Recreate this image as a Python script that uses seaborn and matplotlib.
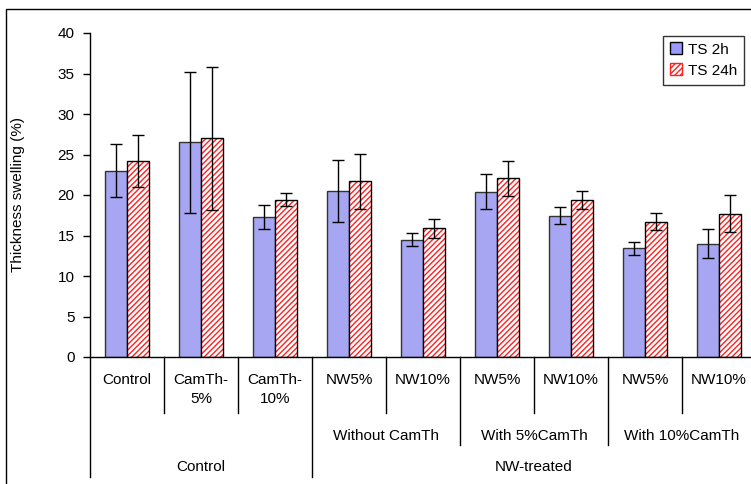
import numpy as np
import pandas as pd
import seaborn as sns
import matplotlib
matplotlib.use("Agg")
import matplotlib.pyplot as plt
from matplotlib.transforms import blended_transform_factory
from matplotlib.patches import Rectangle, Patch
from matplotlib.lines import Line2D

# ---- data ----
categories = ["Control", "CamTh-\n5%", "CamTh-\n10%", "NW5%", "NW10%",
              "NW5%", "NW10%", "NW5%", "NW10%"]
series = ["TS 2h", "TS 24h"]
ts2h = [23.0, 26.5, 17.3, 20.5, 14.5, 20.4, 17.45, 13.4, 14.0]
ts2h_err = [3.3, 8.7, 1.45, 3.85, 0.85, 2.15, 1.05, 0.8, 1.8]
ts24h = [24.2, 27.0, 19.4, 21.7, 15.9, 22.05, 19.4, 16.7, 17.7]
ts24h_err = [3.25, 8.8, 0.8, 3.4, 1.15, 2.2, 1.1, 1.05, 2.25]
group2_labels = ["Without CamTh", "With 5%CamTh", "With 10%CamTh"]
group2_spans = [(3, 4), (5, 6), (7, 8)]
group3_labels = ["Control", "NW-treated"]
group3_spans = [(0, 2), (3, 8)]
yticks = [0, 5, 10, 15, 20, 25, 30, 35, 40]

df = pd.DataFrame({
    "pos": list(range(len(categories))) * 2,
    "value": ts2h + ts24h,
    "series": [series[0]] * len(categories) + [series[1]] * len(categories),
})

plt.rcParams["font.family"] = ["Liberation Sans", "DejaVu Sans"]
plt.rcParams["hatch.linewidth"] = 1.0
FS = 11

fig = plt.figure(figsize=(7.51, 4.84), dpi=100)
ax = fig.add_axes([90 / 751, 1 - 357 / 484, 666 / 751, 324 / 484])

blue = "#9999FF"
sns.barplot(data=df, x="pos", y="value", hue="series", hue_order=series,
            palette=[blue, "white"], width=0.6, gap=0, errorbar=None,
            edgecolor="black", linewidth=1.0, ax=ax, legend=False, zorder=2)

# style red hatched bars
for p in ax.containers[1]:
    p.set_facecolor("white")
    p.set_edgecolor("#FF2020")
    p.set_hatch("//////")
    p.set_linewidth(0)
    ax.add_patch(Rectangle((p.get_x(), p.get_y()), p.get_width(), p.get_height(),
                           fill=False, edgecolor="black", linewidth=1.0, zorder=3))
for p in ax.containers[0]:
    p.set_edgecolor("#333333")

# error bars
for cont, err in zip(ax.containers, [ts2h_err, ts24h_err]):
    xs = [p.get_x() + p.get_width() / 2 for p in cont]
    hs = [p.get_height() for p in cont]
    ax.errorbar(xs, hs, yerr=err, fmt="none", ecolor="black", elinewidth=1.0,
                capsize=4, capthick=1.0, zorder=4)

ax.set_ylim(0, 40)
ax.set_xlim(-0.5, len(categories) - 0.5)
ax.set_yticks(yticks)
ax.set_yticklabels([str(t) for t in yticks], fontsize=FS)
ax.tick_params(axis="y", direction="out", length=5, width=1, pad=6, colors="black")
ax.set_xticks([])
ax.set_xlabel("")
ax.set_ylabel("Thickness swelling (%)", fontsize=FS)
ax.yaxis.set_label_coords((25 - 90) / 666, 0.5)
for s in ["top", "right"]:
    ax.spines[s].set_visible(False)
ax.spines["left"].set_linewidth(1)
ax.spines["bottom"].set_linewidth(1)
ax.set_facecolor("white")

# multi-level category axis
tr = blended_transform_factory(ax.transData, fig.transFigure)
def fy(px):
    return 1 - px / 484

for i, lab in enumerate(categories):
    ax.text(i, fy(373), lab, transform=tr, ha="center", va="top",
            fontsize=FS, linespacing=1.45, clip_on=False)

depth = {}
for b in range(len(categories) + 1):
    depth[b - 0.5] = 413
for (a, b) in group2_spans:
    depth[a - 0.5] = max(depth[a - 0.5], 445)
    depth[b + 0.5] = max(depth[b + 0.5], 445)
for (a, b) in group3_spans:
    depth[a - 0.5] = 477
    depth[b + 0.5] = 477
for xb, d in depth.items():
    ax.add_line(Line2D([xb, xb], [fy(357), fy(d)], transform=tr, color="black",
                       linewidth=1.0, clip_on=False))

for lab, (a, b) in zip(group2_labels, group2_spans):
    ax.text((a + b) / 2, fy(436), lab, transform=tr, ha="center", va="center",
            fontsize=FS, clip_on=False)
for lab, (a, b) in zip(group3_labels, group3_spans):
    ax.text((a + b) / 2, fy(467), lab, transform=tr, ha="center", va="center",
            fontsize=FS, clip_on=False)

# legend
handles = [Patch(facecolor=blue, edgecolor="black", linewidth=1.0, label=series[0]),
           Patch(facecolor="white", edgecolor="#FF2020", hatch="//////",
                 linewidth=1.0, label=series[1])]
leg = ax.legend(handles=handles, loc="upper right", bbox_to_anchor=(0.982, 0.992),
                fontsize=FS, frameon=True, fancybox=False, edgecolor="black",
                handlelength=0.8, handleheight=0.8, handletextpad=0.4,
                borderpad=0.45, labelspacing=0.45, borderaxespad=0)
leg.get_frame().set_linewidth(1.0)

# outer chart frame
fig.add_artist(Rectangle((6 / 751, -0.1), 1.2, fy(9) + 0.1, transform=fig.transFigure,
                         fill=False, edgecolor="black", linewidth=1.0))

fig.savefig("out.png", dpi=100, facecolor="white")
